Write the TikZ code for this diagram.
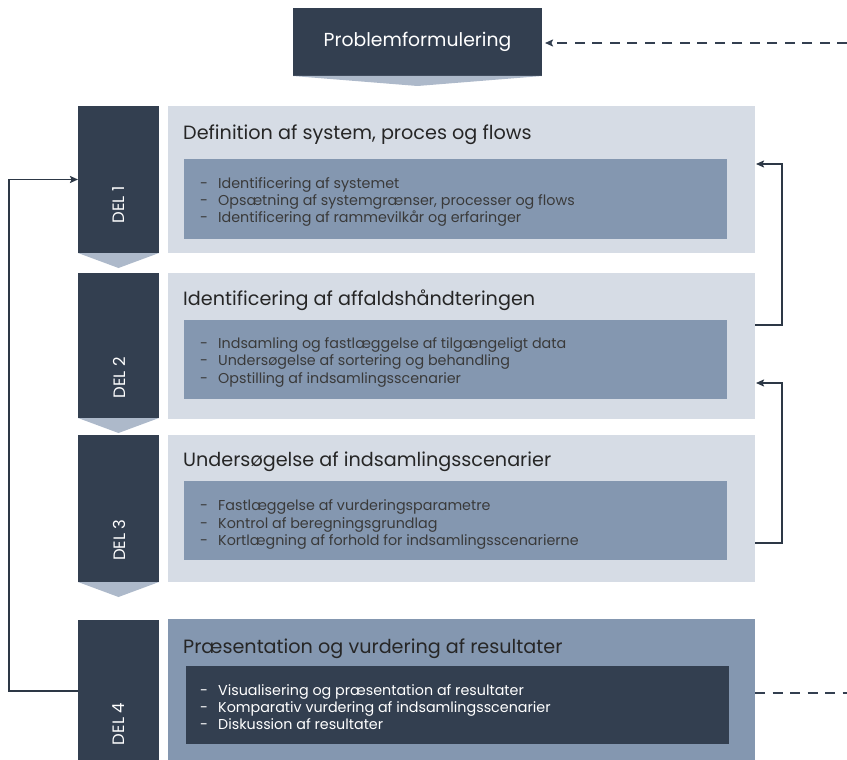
\documentclass[tikz,border=0pt]{standalone}
\usepackage{fontspec}
\setmainfont{Poppins}
\usetikzlibrary{arrows.meta,calc}
\definecolor{navy}{HTML}{333F50}
\definecolor{midblue}{HTML}{8497B0}
\definecolor{paleblue}{HTML}{D6DCE5}
\definecolor{chev}{HTML}{ADB9CA}
\definecolor{titlecol}{HTML}{262626}
\definecolor{bulcol}{HTML}{3A3A3A}
\definecolor{linecol}{HTML}{2D3846}
\tikzset{
  box/.style={rectangle,inner sep=0pt,outer sep=0pt},
  delbox/.style={box,fill=navy,minimum width=81pt},
  outerbox/.style={box,fill=paleblue,minimum width=587pt},
  innerbox/.style={box,fill=midblue,minimum width=543pt},
  chevron/.style={fill=chev},
  dellabel/.style={rotate=90,text=white,inner sep=0pt,font=\fontsize{16.5}{19}\selectfont},
  titletext/.style={anchor=base west,inner sep=0pt,text=titlecol,font=\fontsize{19.2}{22}\selectfont},
  bullet/.style={anchor=base west,inner sep=0pt,text=bulcol,font=\fontsize{14.3}{17}\selectfont},
  wbullet/.style={bullet,text=white},
  conn/.style={draw=linecol,line width=1.8pt},
  tip/.style={-{Stealth[length=8pt,width=7pt,inset=1.5pt]}},
  dashconn/.style={draw=navy,line width=2pt,dash pattern=on 10pt off 7.5pt}
}
\newcommand{\bul}[1]{\makebox[18pt][l]{-}#1}
\begin{document}
\begin{tikzpicture}[x=1pt,y=-1pt]
\useasboundingbox (0,0) rectangle (847,760);
% Problemformulering
\node[box,fill=navy,minimum width=249pt,minimum height=68pt,text=white,font=\fontsize{18.8}{22}\selectfont] (pf) at (417.5,42) {Problemformulering};
\fill[chevron] (pf.south west) -- (pf.south east) -- ($(pf.south)+(0,10)$) -- cycle;

% DEL 1
\node[delbox,minimum height=147pt] (del1) at (118.5,179.5) {};
\node[outerbox,minimum height=147pt] (box1) at (461.5,179.5) {};
\node[innerbox,minimum height=80pt] (in1) at (455.5,199) {};
\fill[chevron] (del1.south west) -- (del1.south east) -- ($(del1.south)+(0,15)$) -- cycle;
\node[dellabel] (l1) at (119,205) {DEL 1};
\node[titletext] (t1) at (183,139.5) {Definition af system, proces og flows};
\node[bullet] (b11) at (200,188) {\bul{Identificering af systemet}};
\node[bullet] (b12) at (200,205) {\bul{Opsætning af systemgrænser, processer og flows}};
\node[bullet] (b13) at (200,222) {\bul{Identificering af rammevilkår og erfaringer}};

% DEL 2
\node[delbox,minimum height=145pt] (del2) at (118.5,345.5) {};
\node[outerbox,minimum height=146pt] (box2) at (461.5,346) {};
\node[innerbox,minimum height=79pt] (in2) at (455.5,359.5) {};
\fill[chevron] (del2.south west) -- (del2.south east) -- ($(del2.south)+(0,15)$) -- cycle;
\node[dellabel] (l2) at (119,378) {DEL 2};
\node[titletext] (t2) at (183,305) {Identificering af affaldshåndteringen};
\node[bullet] (b21) at (200,348) {\bul{Indsamling og fastlæggelse af tilgængeligt data}};
\node[bullet] (b22) at (200,365.5) {\bul{Undersøgelse af sortering og behandling}};
\node[bullet] (b23) at (200,383) {\bul{Opstilling af indsamlingsscenarier}};

% DEL 3
\node[delbox,minimum height=147pt] (del3) at (118.5,508.5) {};
\node[outerbox,minimum height=147pt] (box3) at (461.5,508.5) {};
\node[innerbox,minimum height=79pt] (in3) at (455.5,520.5) {};
\fill[chevron] (del3.south west) -- (del3.south east) -- ($(del3.south)+(0,15)$) -- cycle;
\node[dellabel] (l3) at (119,540) {DEL 3};
\node[titletext] (t3) at (183,466.5) {Undersøgelse af indsamlingsscenarier};
\node[bullet] (b31) at (200,510.5) {\bul{Fastlæggelse af vurderingsparametre}};
\node[bullet] (b32) at (200,528) {\bul{Kontrol af beregningsgrundlag}};
\node[bullet] (b33) at (200,545) {\bul{Kortlægning af forhold for indsamlingsscenarierne}};

% DEL 4
\node[delbox,minimum height=142pt] (del4) at (118.5,691) {};
\node[outerbox,fill=midblue,minimum height=143pt] (box4) at (461.5,690.5) {};
\node[innerbox,fill=navy,minimum height=78pt] (in4) at (457.5,705) {};
\node[dellabel] (l4) at (119,724) {DEL 4};
\node[titletext] (t4) at (183,653.5) {Præsentation og vurdering af resultater};
\node[wbullet] (b41) at (200,695) {\bul{Visualisering og præsentation af resultater}};
\node[wbullet] (b42) at (200,712) {\bul{Komparativ vurdering af indsamlingsscenarier}};
\node[wbullet] (b43) at (200,729.5) {\bul{Diskussion af resultater}};

% connectors
\draw[conn,tip] (del4.west) -- ++(-69,0) |- (del1.west);
\draw[conn,tip] ([yshift=21pt]box2.east) -- ++(27,0) |- ([yshift=15.5pt,xshift=1pt]box1.east);
\draw[conn,tip] ([yshift=-34.5pt]box3.east) -- ++(27,0) |- ([yshift=-37pt,xshift=1pt]box2.east);

\coordinate (topend) at (847,43);
\coordinate (botend) at (847,693);
\draw[dashconn,tip] (topend) -- ([xshift=3pt,yshift=-1pt]pf.east);
\draw[dashconn] ([yshift=-2.5pt]box4.east) -- (botend);
\end{tikzpicture}
\end{document}
